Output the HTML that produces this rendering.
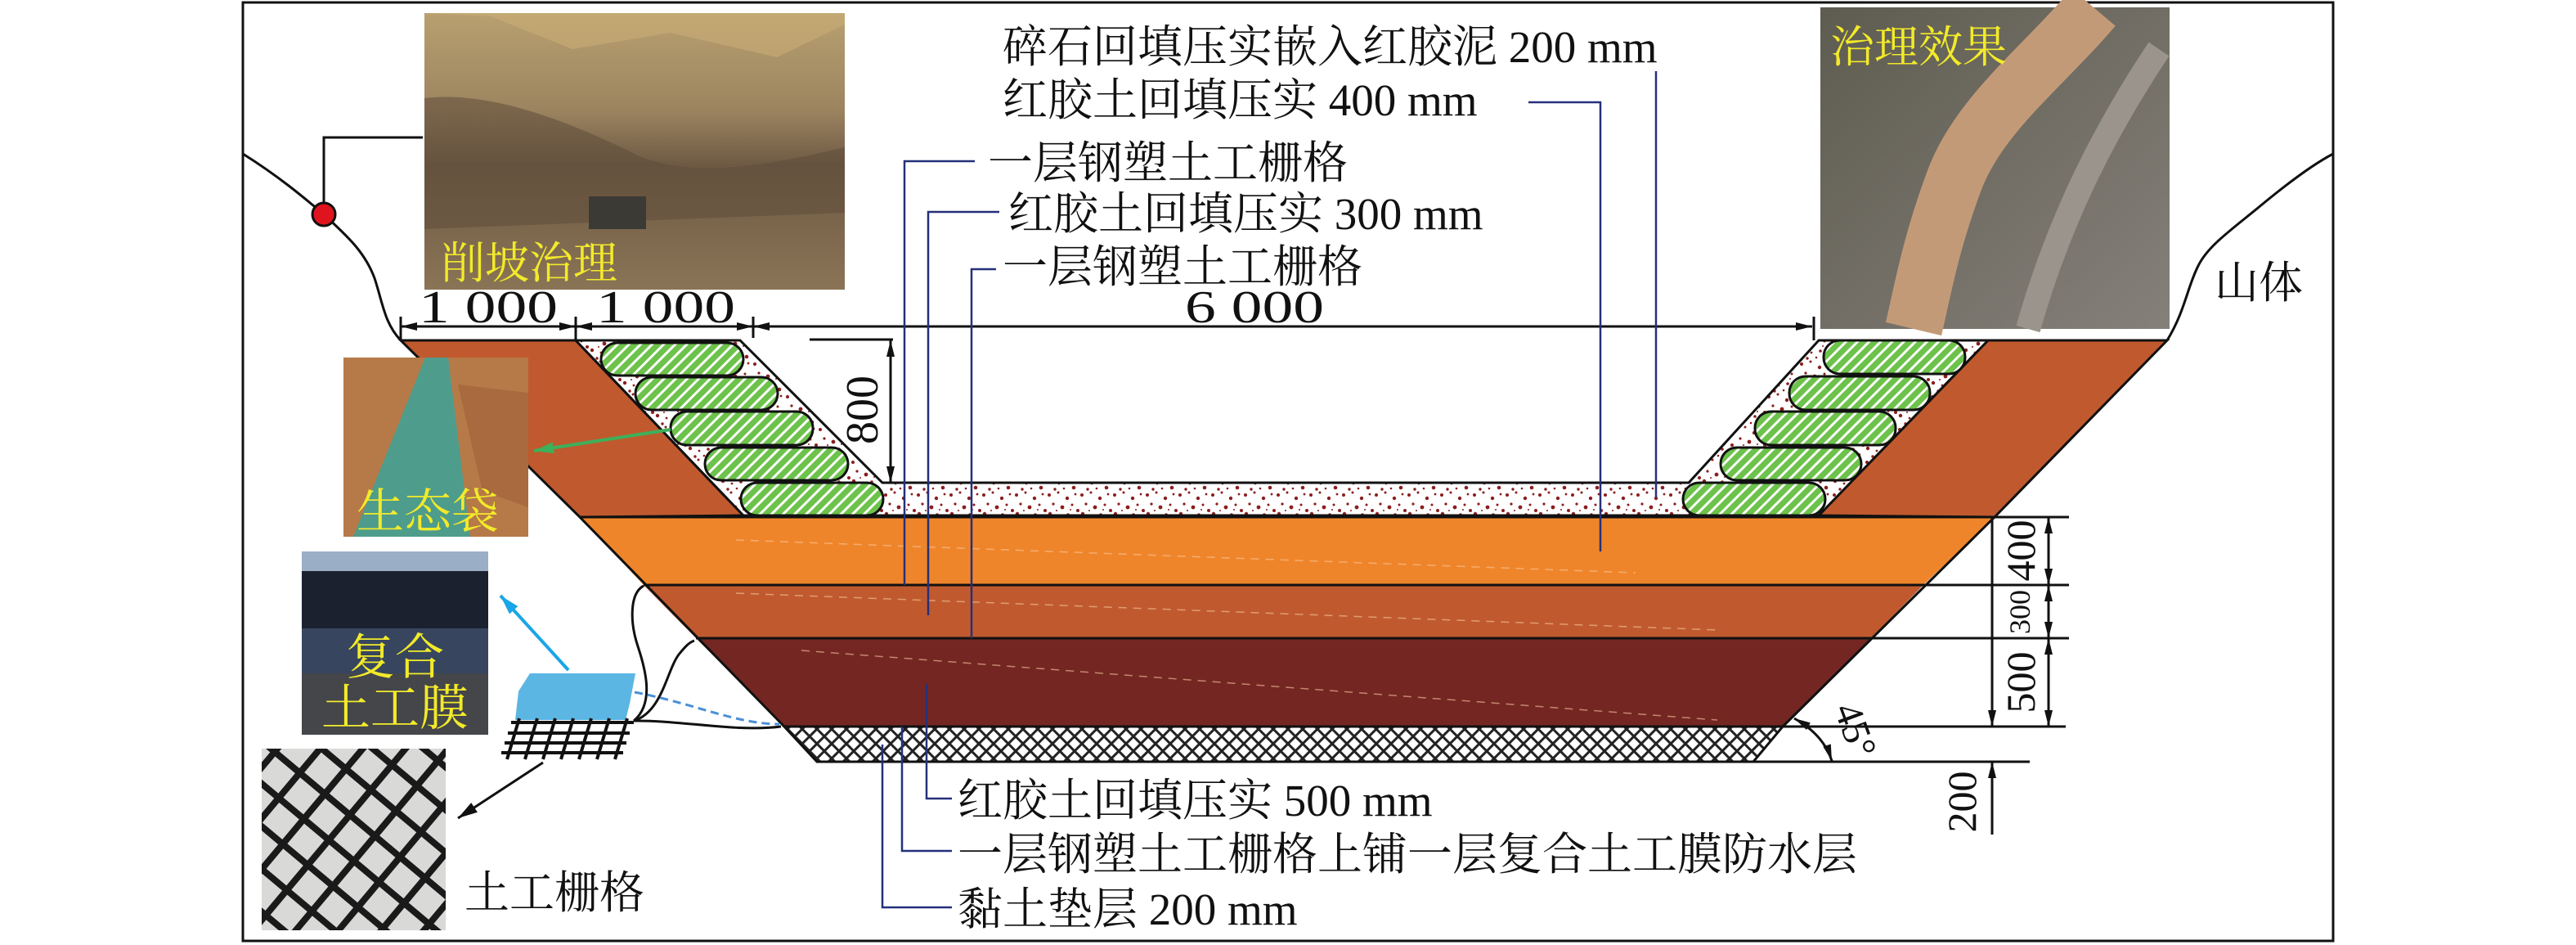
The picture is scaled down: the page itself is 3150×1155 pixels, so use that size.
<!DOCTYPE html>
<html><head><meta charset="utf-8"><style>
html,body{margin:0;padding:0;background:#fff}
svg{display:block}
text{font-family:"Liberation Serif","Noto Serif CJK SC",serif;}
</style></head><body>
<svg width="3150" height="1155" viewBox="0 0 3150 1155" xmlns="http://www.w3.org/2000/svg">
<defs>
<pattern id="grav" width="40" height="40" patternUnits="userSpaceOnUse">
<rect width="40" height="40" fill="#fff"/>
<g fill="#8B1E1E">
<circle cx="3" cy="5" r="2"/><circle cx="14" cy="2" r="1.5"/><circle cx="25" cy="9" r="2.2"/><circle cx="35" cy="4" r="1.4"/>
<circle cx="8" cy="16" r="1.6"/><circle cx="19" cy="20" r="2.4"/><circle cx="31" cy="17" r="1.5"/><circle cx="38" cy="24" r="2"/>
<circle cx="4" cy="28" r="2.2"/><circle cx="15" cy="31" r="1.4"/><circle cx="26" cy="29" r="1.8"/><circle cx="33" cy="36" r="2.3"/>
<circle cx="10" cy="38" r="1.7"/><circle cx="21" cy="37" r="1.3"/><circle cx="29" cy="23" r="1"/><circle cx="12" cy="24" r="1"/>
</g></pattern>
<pattern id="hatch" width="10" height="10" patternUnits="userSpaceOnUse" patternTransform="rotate(45)">
<rect width="10" height="10" fill="#6CC24A"/><rect x="0" y="0" width="3" height="10" fill="#fff"/>
</pattern>
<pattern id="clay" width="18" height="18" patternUnits="userSpaceOnUse">
<rect width="18" height="18" fill="#fff"/>
<path d="M0,0 L18,18 M0,18 L18,0 M-9,9 L9,27 M9,-9 L27,9" stroke="#222" stroke-width="3"/>
</pattern>
<pattern id="mesh" width="40" height="40" patternUnits="userSpaceOnUse" patternTransform="rotate(40)">
<rect width="40" height="40" fill="#d9d9d7"/>
<path d="M0,8 H40 M8,0 V40" stroke="#1a1a1a" stroke-width="8"/>
</pattern>
<marker id="ar" viewBox="0 0 20 10" refX="20" refY="5" markerWidth="20" markerHeight="10" markerUnits="userSpaceOnUse" orient="auto-start-reverse">
<path d="M0,0 L20,5 L0,10 Z" fill="#111"/></marker>
<marker id="arb" viewBox="0 0 24 14" refX="24" refY="7" markerWidth="24" markerHeight="14" markerUnits="userSpaceOnUse" orient="auto">
<path d="M0,0 L24,7 L0,14 Z" fill="#19A6E6"/></marker>
<marker id="arg" viewBox="0 0 24 14" refX="24" refY="7" markerWidth="24" markerHeight="14" markerUnits="userSpaceOnUse" orient="auto">
<path d="M0,0 L24,7 L0,14 Z" fill="#3DB05A"/></marker>
<marker id="ark" viewBox="0 0 24 14" refX="24" refY="7" markerWidth="24" markerHeight="14" markerUnits="userSpaceOnUse" orient="auto">
<path d="M0,0 L24,7 L0,14 Z" fill="#111"/></marker>
<linearGradient id="p1" x1="0" y1="0" x2="0" y2="1">
<stop offset="0" stop-color="#B8A070"/><stop offset="0.35" stop-color="#9C8460"/><stop offset="0.55" stop-color="#6E5A44"/><stop offset="1" stop-color="#8A7456"/></linearGradient>
<linearGradient id="p2" x1="0" y1="0" x2="1" y2="1">
<stop offset="0" stop-color="#5E5C50"/><stop offset="1" stop-color="#85807A"/></linearGradient>
</defs>

<rect x="297" y="3" width="2556" height="1147" fill="none" stroke="#111" stroke-width="3"/>

<path d="M297,188 C340,215 370,240 396,262 C420,285 445,305 458,340 C468,370 470,395 490,416" fill="none" stroke="#111" stroke-width="3"/>
<path d="M2853,188 C2830,200 2800,222 2766,250 C2730,280 2700,300 2688,325 C2675,350 2672,380 2650,416" fill="none" stroke="#111" stroke-width="3"/>
<path d="M396,262 V168 H517" fill="none" stroke="#111" stroke-width="3"/>
<circle cx="396" cy="262" r="14" fill="#E0141E" stroke="#111" stroke-width="3"/>

<rect x="519" y="16" width="514" height="338" fill="url(#p1)"/>
<path d="M519,120 C600,110 700,150 780,190 C850,220 950,200 1033,180 L1033,260 L519,280 Z" fill="#5E4C3A" opacity="0.55"/>
<path d="M600,20 L700,60 L820,40 L950,70 L1033,30 L1033,16 L519,16Z" fill="#C9AE76" opacity="0.6"/>
<rect x="720" y="240" width="70" height="40" fill="#3C3A34"/>
<text x="539" y="340" font-size="54" fill="#F2EA2A">削坡治理</text>

<rect x="2226" y="9" width="427" height="393" fill="url(#p2)"/>
<path d="M2560,9 C2500,80 2420,140 2390,220 C2360,300 2350,360 2340,402" fill="none" stroke="#C39A78" stroke-width="70"/>
<path d="M2640,60 C2580,150 2520,260 2480,402" fill="none" stroke="#9A948C" stroke-width="30"/>
<text x="2238" y="76" font-size="54" fill="#F2EA2A">治理效果</text>
<text x="2708" y="364" font-size="54" fill="#111">山体</text>

<polygon points="709,632 2439,632 2352,715 787,715" fill="#EF852A"/>
<polygon points="787,715 2352,715 2288,780 851,780" fill="#C05A2E"/>
<polygon points="851,780 2288,780 2180,888 959,888" fill="#742722"/>
<polygon points="959,888 2180,888 2144,931 999,931" fill="url(#clay)" stroke="#111" stroke-width="3"/>
<path d="M900,660 L2000,700 M900,725 L2100,770 M980,795 L2100,880" stroke="#f6c9a0" stroke-width="1.5" stroke-dasharray="10 8" opacity="0.6"/>
<path d="M709,632 L959,888 M2439,632 L2180,888 M709,632 H2439 M787,715 H2352 M851,780 H2288" stroke="#111" stroke-width="3" fill="none"/>

<polygon points="490,416 704,416 909,630 709,632" fill="#C05A2E" stroke="#111" stroke-width="3"/>
<polygon points="2431,416 2650,416 2439,632 2224,630" fill="#C05A2E" stroke="#111" stroke-width="3"/>
<polygon points="704,416 905,416 1079,590 2065,590 2224,416 2431,416 2224,630 909,630" fill="url(#grav)" stroke="#111" stroke-width="3"/>
<g fill="url(#hatch)" stroke="#111" stroke-width="3">
<rect x="735" y="419" width="174" height="40" rx="20"/>
<rect x="777" y="461" width="174" height="40" rx="20"/>
<rect x="820" y="503" width="174" height="41" rx="20"/>
<rect x="862" y="547" width="175" height="40" rx="20"/>
<rect x="906" y="590" width="174" height="40" rx="20"/>
<rect x="2230" y="416" width="173" height="41" rx="20"/>
<rect x="2188" y="460" width="172" height="41" rx="20"/>
<rect x="2146" y="503" width="172" height="41" rx="20"/>
<rect x="2104" y="547" width="172" height="40" rx="20"/>
<rect x="2058" y="590" width="174" height="40" rx="20"/>
</g>

<g stroke="#111" stroke-width="3" fill="none">
<path d="M490,387 V416 M704,387 V416 M921,387 V413 M2218,387 V416"/>
<line x1="490" y1="399" x2="704" y2="399" marker-start="url(#ar)" marker-end="url(#ar)"/>
<line x1="704" y1="399" x2="921" y2="399" marker-start="url(#ar)" marker-end="url(#ar)"/>
<line x1="921" y1="399" x2="2216" y2="399" marker-start="url(#ar)" marker-end="url(#ar)"/>
<path d="M990,415 H1092"/>
<line x1="1089" y1="416" x2="1089" y2="590" marker-start="url(#ar)" marker-end="url(#ar)"/>
</g>
<g font-size="56" fill="#111" text-anchor="middle">
<text x="597" y="394" textLength="170" lengthAdjust="spacingAndGlyphs">1 000</text>
<text x="814" y="394" textLength="170" lengthAdjust="spacingAndGlyphs">1 000</text>
<text x="1534" y="394" textLength="170" lengthAdjust="spacingAndGlyphs">6 000</text>
<text transform="translate(1073,501) rotate(-90)">800</text>
</g>

<g stroke="#111" stroke-width="3" fill="none">
<path d="M2439,632 H2530 M2352,715 H2530 M2288,780 H2530 M2180,888 H2526 M2144,931 H2482"/>
<line x1="2436" y1="632" x2="2436" y2="888" marker-end="url(#ar)"/>
<line x1="2436" y1="1020" x2="2436" y2="931" marker-end="url(#ar)"/>
<line x1="2505" y1="632" x2="2505" y2="715" marker-start="url(#ar)" marker-end="url(#ar)"/>
<line x1="2505" y1="715" x2="2505" y2="780" marker-start="url(#ar)" marker-end="url(#ar)"/>
<line x1="2505" y1="780" x2="2505" y2="888" marker-start="url(#ar)" marker-end="url(#ar)"/>
<path d="M2194,878 Q2230,898 2240,930" marker-start="url(#ar)" marker-end="url(#ar)"/>
</g>
<g fill="#111" text-anchor="middle">
<text transform="translate(2488,673) rotate(-90)" font-size="50">400</text>
<text transform="translate(2482,748) rotate(-90)" font-size="36">300</text>
<text transform="translate(2488,834) rotate(-90)" font-size="50">500</text>
<text transform="translate(2416,980) rotate(-90)" font-size="50">200</text>
<text transform="translate(2254,898) rotate(70)" font-size="48">45°</text>
</g>

<g stroke="#25307A" stroke-width="2.5" fill="none">
<path d="M2025,87 V608"/>
<path d="M1869,125 H1957 V674"/>
<path d="M1192,197 H1106 V715"/>
<path d="M1222,259 H1135 V752"/>
<path d="M1218,329 H1188 V780"/>
<path d="M1133,836 V976 H1164"/>
<path d="M1103,888 V1040 H1164"/>
<path d="M1079,910 V1109 H1164"/>
</g>
<g font-size="55" fill="#111">
<text x="1226" y="76">碎石回填压实嵌入红胶泥 200 mm</text>
<text x="1226" y="141">红胶土回填压实 400 mm</text>
<text x="1208" y="218">一层钢塑土工栅格</text>
<text x="1233" y="280">红胶土回填压实 300 mm</text>
<text x="1226" y="345">一层钢塑土工栅格</text>
<text x="1171" y="997">红胶土回填压实 500 mm</text>
<text x="1171" y="1063">一层钢塑土工栅格上铺一层复合土工膜防水层</text>
<text x="1171" y="1130">黏土垫层 200 mm</text>
</g>

<rect x="420" y="437" width="226" height="219" fill="#B67A48"/>
<path d="M520,437 L548,437 L575,656 L432,656 Z" fill="#4E9C8C"/>
<path d="M560,470 L646,480 L646,620 L590,600 Z" fill="#9A5A34" opacity="0.5"/>
<text x="436" y="645" font-size="58" fill="#F2EA2A">生态袋</text>
<line x1="820" y1="525" x2="653" y2="551" stroke="#3DB05A" stroke-width="4" marker-end="url(#arg)"/>

<rect x="369" y="674" width="228" height="224" fill="#44464A"/>
<rect x="369" y="674" width="228" height="24" fill="#9AAFC6"/>
<rect x="369" y="698" width="228" height="70" fill="#1C2130"/>
<rect x="369" y="768" width="228" height="55" fill="#37465E"/>
<text x="483" y="824" font-size="60" fill="#F2EA2A" text-anchor="middle">复合</text>
<text x="483" y="886" font-size="60" fill="#F2EA2A" text-anchor="middle">土工膜</text>
<line x1="695" y1="819" x2="612" y2="728" stroke="#19A6E6" stroke-width="4" marker-end="url(#arb)"/>

<path d="M648,823 H777 L770,860 L765,880 H630 L634,845 Z" fill="#5BB6E3"/>
<g stroke="#111" stroke-width="4" fill="none">
<path d="M625,883 H775 M621,896 H770 M617,908 H766 M613,920 H762"/>
<path d="M635,878 L620,928 M657,878 L642,928 M679,878 L664,928 M701,878 L686,928 M723,878 L708,928 M745,878 L730,928 M767,878 L752,928"/>
</g>
<g stroke="#111" stroke-width="3" fill="none">
<path d="M775,881 C800,860 790,820 780,790 C770,760 770,725 787,716"/>
<path d="M775,881 C810,870 815,820 830,800 C838,790 843,785 849,783"/>
<path d="M775,881 C830,880 900,895 955,888"/>
</g>
<path d="M776,846 C850,860 900,885 953,885" fill="none" stroke="#4A8FD6" stroke-width="3" stroke-dasharray="10 6"/>
<line x1="664" y1="932" x2="560" y2="1000" stroke="#111" stroke-width="3" marker-end="url(#ark)"/>

<rect x="320" y="915" width="225" height="222" fill="url(#mesh)"/>
<text x="568" y="1110" font-size="55" fill="#111">土工栅格</text>
</svg>
</body></html>
